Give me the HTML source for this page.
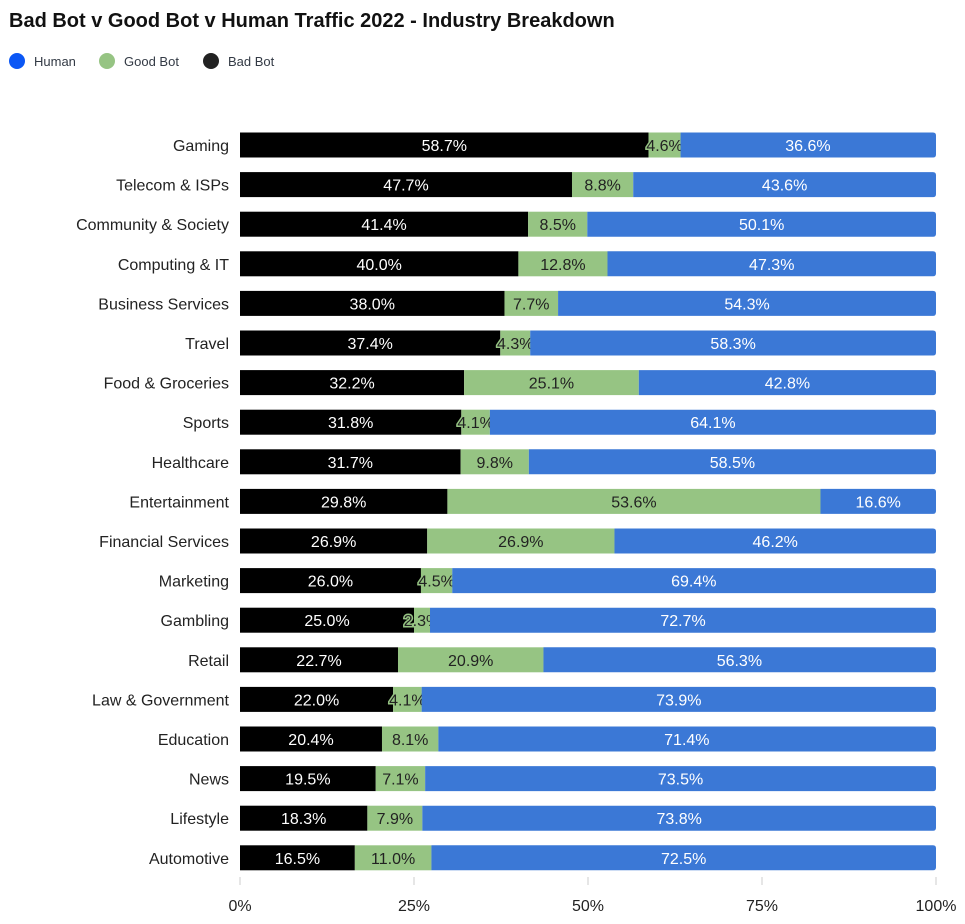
<!DOCTYPE html>
<html><head><meta charset="utf-8"><style>
body{margin:0;background:#fff;width:965px;height:919px;overflow:hidden;font-family:"Liberation Sans",sans-serif}
</style></head><body>
<svg id="chart" width="965" height="919" xmlns="http://www.w3.org/2000/svg">
<text x="9" y="27" font-size="20" font-weight="bold" fill="#111">Bad Bot v Good Bot v Human Traffic 2022 - Industry Breakdown</text>
<g font-size="13" fill="#333a45">
<g><circle cx="17" cy="61" r="8" fill="#0b57f5"/><text x="34" y="66">Human</text></g>
<g><circle cx="107" cy="61" r="8" fill="#96c483"/><text x="124" y="66">Good Bot</text></g>
<g><circle cx="211" cy="61" r="8" fill="#222"/><text x="228" y="66">Bad Bot</text></g>
</g>
<g id="plot"></g>
</svg>
<script>
const categories=["Gaming","Telecom & ISPs","Community & Society","Computing & IT","Business Services","Travel","Food & Groceries","Sports","Healthcare","Entertainment","Financial Services","Marketing","Gambling","Retail","Law & Government","Education","News","Lifestyle","Automotive"];
const badBot=[58.7,47.7,41.4,40.0,38.0,37.4,32.2,31.8,31.7,29.8,26.9,26.0,25.0,22.7,22.0,20.4,19.5,18.3,16.5];
const goodBot=[4.6,8.8,8.5,12.8,7.7,4.3,25.1,4.1,9.8,53.6,26.9,4.5,2.3,20.9,4.1,8.1,7.1,7.9,11.0];
const human=[36.6,43.6,50.1,47.3,54.3,58.3,42.8,64.1,58.5,16.6,46.2,69.4,72.7,56.3,73.9,71.4,73.5,73.8,72.5];
const ticks=[0,25,50,75,100];
const X0=240,X1=936,Y0=145,STEP=39.6,BH=25;
const x=v=>X0+(X1-X0)*v/100;
const y=i=>Y0+i*STEP;
const NS="http://www.w3.org/2000/svg";
const plot=document.getElementById('plot');
function mk(tag,attrs,parent){const e=document.createElementNS(NS,tag);for(const k in attrs)e.setAttribute(k,attrs[k]);(parent||plot).appendChild(e);return e;}
ticks.forEach(t=>{
 const l=mk('line',{x1:x(t),x2:x(t),y1:877,y2:885,stroke:'#ccc'});
 
 
 const tx=mk('text',{x:x(t),y:911,'font-size':16,'text-anchor':'middle',fill:'#222'});
 tx.textContent=t+'%';
 
 
});
categories.forEach((c,i)=>{
 const cy=y(i);
 const lab=mk('text',{x:229,y:cy+6,'font-size':16,'text-anchor':'end',fill:'#222'});
 lab.textContent=c;
 
 
 const segs=[[badBot[i],'#000','#fff','bad-bot'],[goodBot[i],'#96c483','#222','good-bot'],[human[i],'#3b78d6','#fff','human']];
 let acc=0;
 segs.forEach((s,j)=>{
  const a=x(acc),b=x(Math.min(100,acc+s[0]));
  let r;
  if(j==2){
   r=mk('path',{d:`M${a},${cy-BH/2}H${X1-3}Q${X1},${cy-BH/2} ${X1},${cy-BH/2+3}V${cy+BH/2-3}Q${X1},${cy+BH/2} ${X1-3},${cy+BH/2}H${a}Z`,fill:s[1]});
  } else r=mk('rect',{x:a,y:cy-BH/2,width:b-a,height:BH,fill:s[1]});
  
  
  const t=mk('text',{x:(a+b)/2,y:cy+6,'font-size':16,'text-anchor':'middle',fill:s[2]});
  if(j==1&&b-a<40){t.setAttribute('stroke','#96c483');t.setAttribute('stroke-width','3');t.setAttribute('paint-order','stroke');}
  t.textContent=s[0].toFixed(1)+'%';
  
  
  acc+=s[0];
 });
});
</script>
</body></html>
